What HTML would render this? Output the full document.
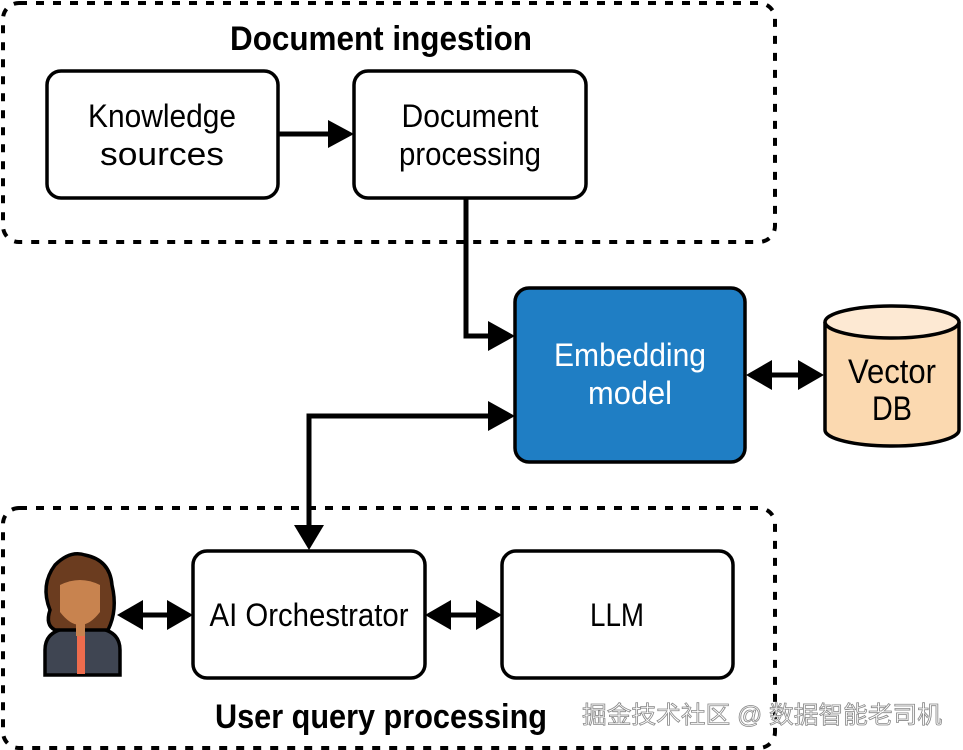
<!DOCTYPE html>
<html><head><meta charset="utf-8"><style>
html,body{margin:0;padding:0;background:#fff;}
svg{display:block;}
text{font-family:"Liberation Sans Narrow","Liberation Sans",sans-serif;}
</style></head><body>
<svg width="963" height="750" viewBox="0 0 963 750" xmlns="http://www.w3.org/2000/svg">
<defs>
<marker id="ah" markerWidth="10" markerHeight="10" refX="9" refY="5" orient="auto" markerUnits="userSpaceOnUse" viewBox="0 0 10 10">
</marker>
</defs>
<!-- dashed groups -->
<rect x="3" y="3" width="772" height="239" rx="16" fill="none" stroke="#000" stroke-width="4" stroke-dasharray="8 9"/>
<rect x="3" y="508" width="772" height="240" rx="16" fill="none" stroke="#000" stroke-width="4" stroke-dasharray="8 9"/>
<text x="381" y="50" font-size="34" font-weight="bold" text-anchor="middle" textLength="302" lengthAdjust="spacingAndGlyphs">Document ingestion</text>
<text x="381" y="728" font-size="34" font-weight="bold" text-anchor="middle" textLength="332" lengthAdjust="spacingAndGlyphs">User query processing</text>

<!-- boxes -->
<rect x="47" y="71" width="231" height="127" rx="14" fill="#fff" stroke="#000" stroke-width="3.5"/>
<text x="162" y="127" font-size="32" text-anchor="middle" textLength="148" lengthAdjust="spacingAndGlyphs">Knowledge</text>
<text x="162" y="165" font-size="32" text-anchor="middle" textLength="124" lengthAdjust="spacingAndGlyphs">sources</text>

<rect x="354" y="71" width="232" height="127" rx="14" fill="#fff" stroke="#000" stroke-width="3.5"/>
<text x="470" y="127" font-size="32" text-anchor="middle" textLength="137" lengthAdjust="spacingAndGlyphs">Document</text>
<text x="470" y="165" font-size="32" text-anchor="middle" textLength="142" lengthAdjust="spacingAndGlyphs">processing</text>

<rect x="515" y="288" width="230" height="174" rx="14" fill="#1f7ec4" stroke="#000" stroke-width="3.5"/>
<text x="630" y="366" font-size="32" fill="#fff" text-anchor="middle" textLength="152" lengthAdjust="spacingAndGlyphs">Embedding</text>
<text x="630" y="404" font-size="32" fill="#fff" text-anchor="middle" textLength="84" lengthAdjust="spacingAndGlyphs">model</text>

<rect x="193" y="551" width="232" height="127" rx="14" fill="#fff" stroke="#000" stroke-width="3.5"/>
<text x="309" y="626" font-size="32" text-anchor="middle" textLength="199" lengthAdjust="spacingAndGlyphs">AI Orchestrator</text>

<rect x="502" y="551" width="231" height="127" rx="14" fill="#fff" stroke="#000" stroke-width="3.5"/>
<text x="617" y="626" font-size="32" text-anchor="middle" textLength="54" lengthAdjust="spacingAndGlyphs">LLM</text>

<!-- cylinder -->
<path d="M825 322 L825 430 A67 16 0 0 0 959 430 L959 322" fill="#fbd9b0" stroke="#000" stroke-width="3.5"/>
<ellipse cx="892" cy="322" rx="67" ry="16" fill="#fde9d3" stroke="#000" stroke-width="3.5"/>
<text x="892" y="383" font-size="34" text-anchor="middle" textLength="88" lengthAdjust="spacingAndGlyphs">Vector</text>
<text x="892" y="420" font-size="34" text-anchor="middle" textLength="40" lengthAdjust="spacingAndGlyphs">DB</text>

<!-- connectors -->
<g stroke="#000" stroke-width="5" fill="none">
<line x1="278" y1="134" x2="330" y2="134"/>
<polyline points="466,198 466,336 490,336"/>
<polyline points="490,416 309,416 309,527"/>
<line x1="770" y1="375" x2="800" y2="375"/>
<line x1="140" y1="615" x2="170" y2="615"/>
<line x1="448" y1="615" x2="479" y2="615"/>
</g>
<g fill="#000">
<polygon points="328,120 354,134 328,148"/>
<polygon points="488,321 515,336 488,351"/>
<polygon points="488,401 515,416 488,431"/>
<polygon points="294,525 324,525 309,550"/>
<polygon points="772,360 746,375 772,390"/>
<polygon points="798,360 824,375 798,390"/>
<polygon points="143,600 117,615 143,630"/>
<polygon points="167,600 193,615 167,630"/>
<polygon points="451,600 425,615 451,630"/>
<polygon points="476,600 502,615 476,630"/>
</g>

<!-- person -->
<g stroke="#000" stroke-width="3.5">
<path d="M45 675 L45 650 Q45 630 70 628 L95 628 Q120 630 120 650 L120 675 Z" fill="#3f4552"/>
<path d="M50 610 Q40 585 55 565 Q70 550 85 555 Q110 560 112 585 Q118 610 108 630 L55 630 Q45 625 50 610 Z" fill="#6b3c1f"/>
</g>
<path d="M60 585 Q80 575 100 585 L100 612 Q90 625 80 625 Q70 625 60 612 Z" fill="#c8834f"/>
<rect x="76" y="620" width="9" height="16" fill="#c8834f"/>
<rect x="77" y="636" width="8" height="38" fill="#ee6c4d"/>

<!-- watermark -->
<text x="582" y="723" font-size="24" fill="#fff" stroke="#888" stroke-width="0.8" font-family="'Noto Sans CJK SC',sans-serif" textLength="360" lengthAdjust="spacingAndGlyphs">掘金技术社区 @ 数据智能老司机</text>
</svg>
</body></html>
